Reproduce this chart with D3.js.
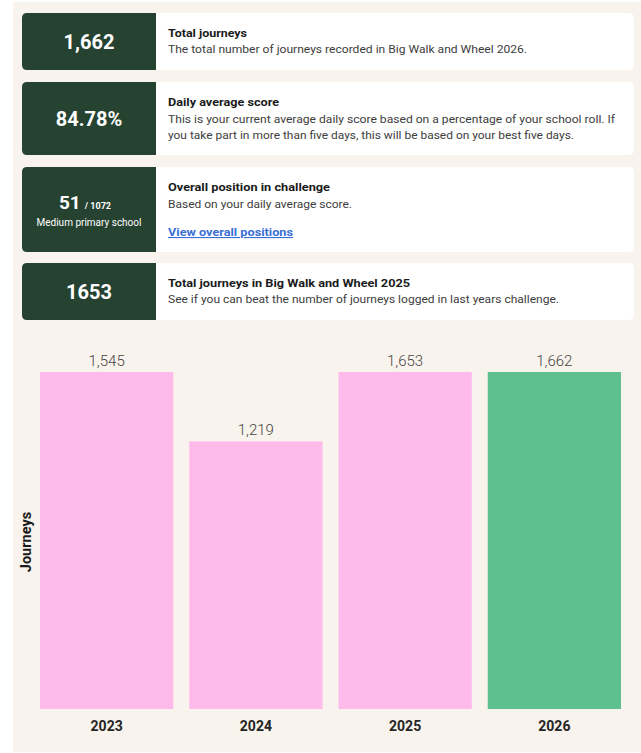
<!DOCTYPE html>
<html>
<head>
<meta charset="utf-8">
<script src="https://cdn.jsdelivr.net/npm/d3@7"></script>
<style>
  html, body { margin: 0; padding: 0; background: #ffffff; }
  svg { display: block; }
</style>
</head>
<body>
<svg id="chart" width="641" height="753"></svg>
<script>
// ---- data ----
const statValues = ["1,662", "84.78%", "51", "1653"];
const statSubs = ["", "", "/ 1072", ""];
const statNotes = ["", "", "Medium primary school", ""];
const statTitles = ["Total journeys", "Daily average score", "Overall position in challenge", "Total journeys in Big Walk and Wheel 2025"];
const statDescriptions = [
  ["The total number of journeys recorded in Big Walk and Wheel 2026."],
  ["This is your current average daily score based on a percentage of your school roll. If",
   "you take part in more than five days, this will be based on your best five days."],
  ["Based on your daily average score."],
  ["See if you can beat the number of journeys logged in last years challenge."]
];
const statLinks = ["", "", "View overall positions", ""];

const years = ["2023", "2024", "2025", "2026"];
const journeys = [1545, 1219, 1653, 1662];
const currentYear = "2026";
const yAxisLabel = "Journeys";

// ---- layout ----
const svg = d3.select("#chart");
const font = "Roboto, 'Noto Sans', sans-serif";

svg.append("rect").attr("x", 13).attr("y", 2).attr("width", 628).attr("height", 750).attr("fill", "#f8f3ec");

const cardTops = [13, 82, 167, 263];
const cardHeights = [57, 73, 85, 57];
const descWidths = [[359], [447, 406], [184], [391]];
const titleWidths = [79, 111, 162, 242];

statValues.forEach((v, i) => {
  const g = svg.append("g").attr("transform", `translate(22,${cardTops[i]})`);
  const h = cardHeights[i];
  g.append("rect").attr("width", 612).attr("height", h).attr("rx", 5)
    .attr("fill", "#ffffff");
  // dark panel
  g.append("path")
    .attr("d", `M5,0 H134 V${h} H5 Q0,${h} 0,${h-5} V5 Q0,0 5,0 Z`)
    .attr("fill", "#264231");

  const cx = 67;
  if (statSubs[i]) {
    const t = g.append("text").attr("x", cx - 4).attr("y", h/2 - 1)
      .attr("text-anchor", "middle").attr("font-family", font).attr("fill", "#ffffff");
    t.append("tspan").attr("font-size", 19).attr("font-weight", 700).text(v);
    t.append("tspan").attr("font-size", 9).attr("font-weight", 700).attr("dx", 4).text(statSubs[i]);
    g.append("text").attr("x", cx).attr("y", h/2 + 16)
      .attr("text-anchor", "middle").attr("font-family", font).attr("font-size", 10)
      .attr("fill", "#ffffff").text(statNotes[i]);
  } else {
    g.append("text").attr("x", cx).attr("y", h/2 + 7)
      .attr("text-anchor", "middle").attr("font-family", font).attr("font-size", 20)
      .attr("font-weight", 700).attr("fill", "#ffffff").text(v);
  }

  const lines = statDescriptions[i];
  const ty = (statLinks[i] || lines.length > 1) ? 24 : 23.5;
  const gap = 16.5;
  g.append("text").attr("x", 146).attr("y", ty)
    .attr("font-family", font).attr("font-size", 11).attr("font-weight", 700)
    .attr("fill", "#1b1b1b")
    .attr("textLength", titleWidths[i]).attr("lengthAdjust", "spacingAndGlyphs")
    .text(statTitles[i]);
  lines.forEach((ln, j) => {
    g.append("text").attr("x", 146).attr("y", ty + gap * (j + 1))
      .attr("font-family", font).attr("font-size", 11).attr("fill", "#3d3d3d")
      .attr("textLength", descWidths[i][j]).attr("lengthAdjust", "spacingAndGlyphs")
      .text(ln);
  });
  if (statLinks[i]) {
    g.append("text").attr("x", 146).attr("y", ty + 45)
      .attr("font-family", font).attr("font-size", 11).attr("font-weight", 700)
      .attr("fill", "#3b6fd6").attr("text-decoration", "underline")
      .attr("textLength", 125).attr("lengthAdjust", "spacingAndGlyphs")
      .text(statLinks[i]);
  }
});

// ---- bar chart ----
const x = d3.scaleBand().domain(years).range([40, 621]).paddingInner(0.107).paddingOuter(0);
const y = d3.scaleLinear().domain([0, 1535]).range([709, 372]).clamp(true);

const bars = svg.append("g");
bars.selectAll("rect").data(years).join("rect")
  .attr("x", d => x(d))
  .attr("y", (d, i) => y(journeys[i]))
  .attr("width", x.bandwidth())
  .attr("height", (d, i) => y(0) - y(journeys[i]))
  .attr("fill", d => d === currentYear ? "#5fc08f" : "#fdbaeb");

bars.selectAll("text.val").data(years).join("text").attr("class", "val")
  .attr("x", d => x(d) + x.bandwidth() / 2)
  .attr("y", (d, i) => y(journeys[i]) - 6)
  .attr("text-anchor", "middle")
  .attr("font-family", font).attr("font-size", 15).attr("font-weight", 300)
  .attr("fill", "#444444")
  .text((d, i) => d3.format(",")(journeys[i]));

const xAxis = svg.append("g").attr("transform", "translate(0,709)")
  .call(d3.axisBottom(x).tickSize(0).tickPadding(12));
xAxis.select(".domain").remove();
xAxis.selectAll("text").attr("font-family", font).attr("font-size", 14)
  .attr("font-weight", 700).attr("fill", "#252525");

svg.append("text")
  .attr("transform", "translate(31,542) rotate(-90)")
  .attr("text-anchor", "middle")
  .attr("font-family", font).attr("font-size", 14.5).attr("font-weight", 700)
  .attr("fill", "#1b1b1b")
  .text(yAxisLabel);
</script>
</body>
</html>
